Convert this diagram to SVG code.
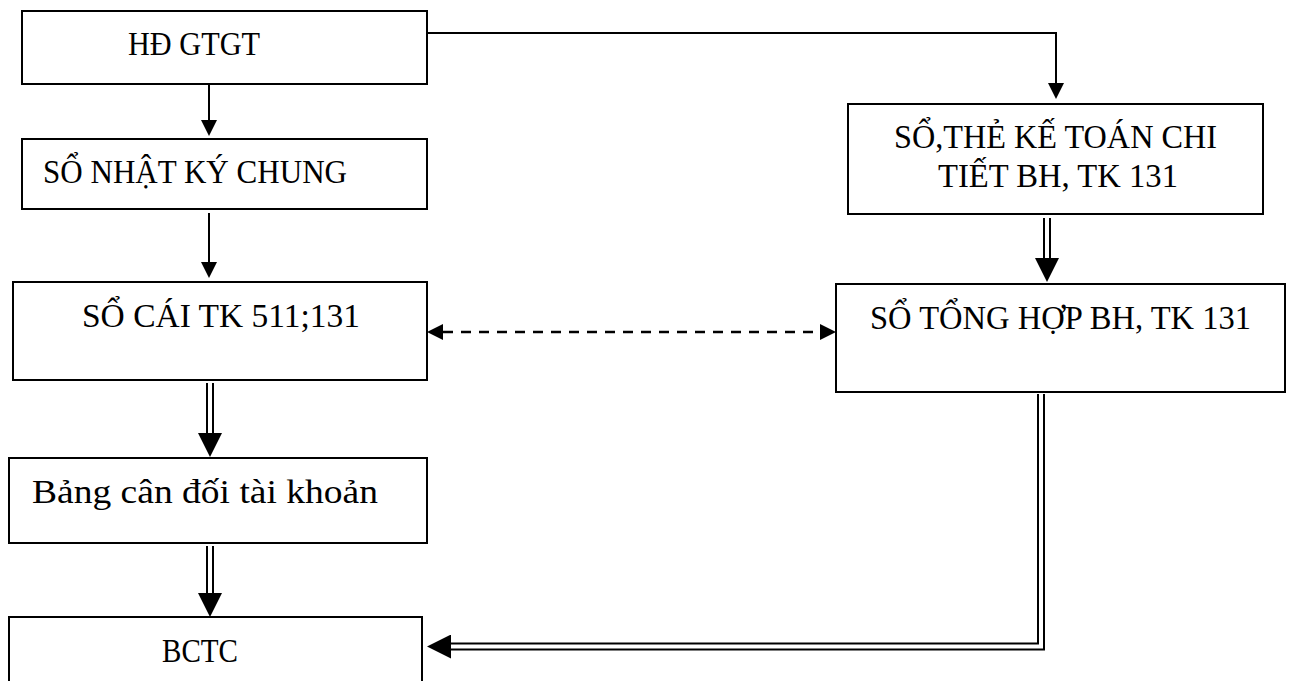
<svg xmlns="http://www.w3.org/2000/svg" width="1293" height="681" viewBox="0 0 1293 681">
<style>
.box{fill:#fff;stroke:#000;stroke-width:2}
.t{font-family:"Liberation Serif","Times New Roman",serif;font-size:34px;fill:#000}
.ln{fill:none;stroke:#000;stroke-width:2}
.dash{fill:none;stroke:#000;stroke-width:2.5;stroke-dasharray:10 8}
.dblo{fill:none;stroke:#000;stroke-width:8}
.dbli{fill:none;stroke:#fff;stroke-width:4}
</style>
<defs>
<marker id="a" markerUnits="userSpaceOnUse" markerWidth="16" markerHeight="16" refX="0" refY="8" orient="auto-start-reverse" viewBox="0 0 16 16"><path d="M0,0 L16,8 L0,16 z" fill="#000"/></marker>
<marker id="b" markerUnits="userSpaceOnUse" markerWidth="24" markerHeight="24" refX="0" refY="12" orient="auto" viewBox="0 0 24 24"><path d="M0,0 L24,12 L0,24 z" fill="#000"/></marker>
</defs>
<rect width="1293" height="681" fill="#fff"/>
<g id="connectors">
<path class="ln" d="M427,33 H1056 V83" marker-end="url(#a)"/>
<path class="ln" d="M209,84 V120" marker-end="url(#a)"/>
<path class="ln" d="M209,213 V262" marker-end="url(#a)"/>
<path class="dash" d="M443,332 H820" marker-start="url(#a)" marker-end="url(#a)"/>
<path class="dblo" d="M210,383 V433" marker-end="url(#b)"/>
<path class="dbli" d="M210,383 V433"/>
<path class="dblo" d="M210,546 V593" marker-end="url(#b)"/>
<path class="dbli" d="M210,546 V593"/>
<path class="dblo" d="M1047,218 V258" marker-end="url(#b)"/>
<path class="dbli" d="M1047,218 V258"/>
<path class="dblo" d="M1041,394 V646.5 H451" marker-end="url(#b)"/>
<path class="dbli" d="M1041,394 V646.5 H451"/>
</g>
<g id="n-hd">
<rect class="box" x="22" y="11" width="405" height="73"/>
<text class="t" x="128" y="55" textLength="132" lengthAdjust="spacingAndGlyphs">HĐ GTGT</text>
</g>
<g id="n-nkc">
<rect class="box" x="22" y="139" width="405" height="70"/>
<text class="t" x="43" y="183" textLength="304" lengthAdjust="spacingAndGlyphs">SỔ NHẬT KÝ CHUNG</text>
</g>
<g id="n-socai">
<rect class="box" x="13" y="282" width="414" height="98"/>
<text class="t" x="82" y="327" textLength="278" lengthAdjust="spacingAndGlyphs">SỔ CÁI TK 511;131</text>
</g>
<g id="n-bcd">
<rect class="box" x="9" y="458" width="418" height="85"/>
<text class="t" x="32" y="503" font-size="44" textLength="346" lengthAdjust="spacingAndGlyphs">Bảng cân đối tài khoản</text>
</g>
<g id="n-bctc">
<rect class="box" x="9" y="617" width="413" height="80"/>
<text class="t" x="162" y="662" textLength="76" lengthAdjust="spacingAndGlyphs">BCTC</text>
</g>
<g id="n-sct">
<rect class="box" x="848" y="104" width="415" height="110"/>
<text class="t" x="894" y="148" textLength="323" lengthAdjust="spacingAndGlyphs">SỔ,THẺ KẾ TOÁN CHI</text>
<text class="t" x="938" y="187" textLength="240" lengthAdjust="spacingAndGlyphs">TIẾT BH, TK 131</text>
</g>
<g id="n-sth">
<rect class="box" x="836" y="284" width="449" height="108"/>
<text class="t" x="870" y="329" textLength="381" lengthAdjust="spacingAndGlyphs">SỔ TỔNG HỢP BH, TK 131</text>
</g>
</svg>
